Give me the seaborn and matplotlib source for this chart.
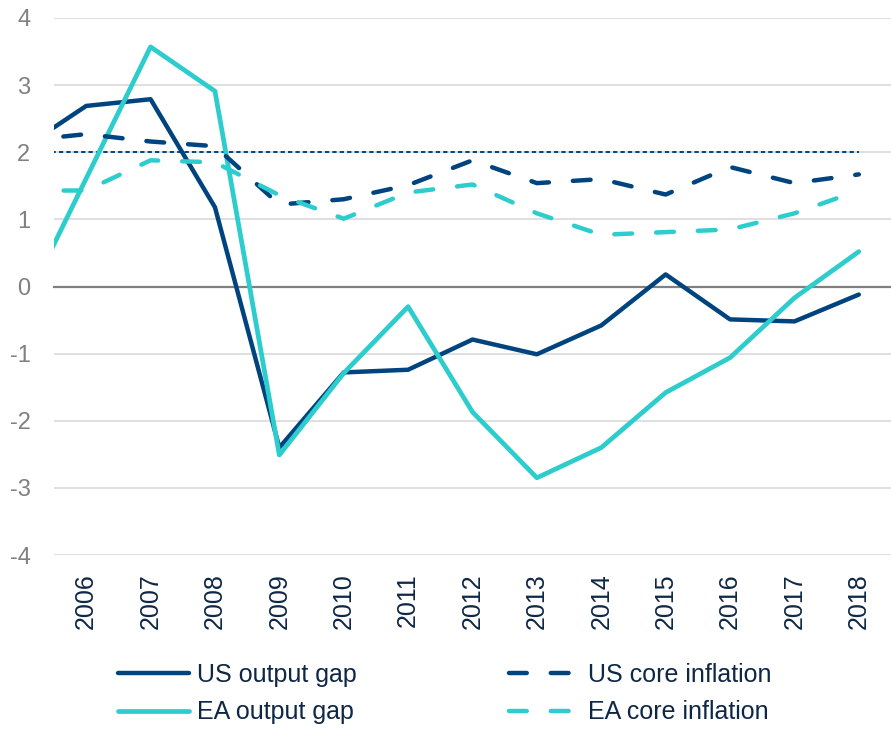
import numpy as np
import pandas as pd
import seaborn as sns
import matplotlib.pyplot as plt

# years (2005 only shows as the clipped start of the lines)
years = list(range(2005, 2019))
year_labels = [str(y) for y in range(2006, 2019)]

us_gap = [2.05, 2.69, 2.79, 1.18, -2.40, -1.28, -1.24, -0.79, -1.01, -0.58, 0.18, -0.49, -0.52, -0.12]
ea_gap = [-0.35, 1.61, 3.57, 2.91, -2.51, -1.29, -0.30, -1.87, -2.85, -2.40, -1.58, -1.06, -0.17, 0.52]
us_core = [2.17, 2.27, 2.16, 2.09, 1.22, 1.30, 1.51, 1.88, 1.54, 1.60, 1.37, 1.78, 1.54, 1.67]
ea_core = [1.43, 1.43, 1.88, 1.85, 1.36, 1.01, 1.40, 1.52, 1.09, 0.77, 0.81, 0.85, 1.09, 1.43]
target = [2.0] * len(years)

navy = "#00447f"
teal = "#2dcccd"
text_navy = "#0f2747"
grey = "#808080"

sns.set_style("white")
plt.rcParams["font.family"] = ["Liberation Sans", "DejaVu Sans"]
plt.rcParams["axes.unicode_minus"] = False

fig = plt.figure(figsize=(8.91, 7.29), dpi=100)
ax = fig.add_axes([54 / 891, 1 - 555 / 729, 1 - 54 / 891, (555 - 18) / 729])

dash = (0, (4.0, 5.4))
sns.lineplot(x=years, y=target, ax=ax, color=navy, lw=1.4,
             linestyle=(0, (2.2, 1.6)), legend=False, zorder=3)
sns.lineplot(x=years, y=us_gap, ax=ax, color=navy, lw=3.2, label="US output gap",
             solid_capstyle="round", solid_joinstyle="round", zorder=4)
sns.lineplot(x=years, y=ea_gap, ax=ax, color=teal, lw=3.4, label="EA output gap",
             solid_capstyle="round", solid_joinstyle="round", zorder=4)
sns.lineplot(x=years, y=us_core, ax=ax, color=navy, lw=3.2, label="US core inflation",
             linestyle=dash, dash_capstyle="round", dash_joinstyle="round", zorder=4)
sns.lineplot(x=years, y=ea_core, ax=ax, color=teal, lw=3.2, label="EA core inflation",
             linestyle=dash, dash_capstyle="round", dash_joinstyle="round", zorder=4)

ax.set_xlim(2005.5, 2005.5 + (891 - 54) / 65.0)
ax.set_ylim(-4, 4)
ax.set_yticks(range(-4, 5))
ax.yaxis.grid(True, color="#d9d9d9", lw=1.2)
ax.xaxis.grid(False)
ax.tick_params(axis="y", length=0, pad=17, labelsize=17, labelcolor=grey)
for s in ["top", "right", "left"]:
    ax.spines[s].set_visible(False)

# zero line with category-boundary ticks
ax.spines["bottom"].set_position(("data", 0))
ax.spines["bottom"].set_color(grey)
ax.spines["bottom"].set_linewidth(1.6)
ax.spines["bottom"].set_zorder(2.5)
ax.set_xticks([y + 0.5 for y in range(2005, 2019)])
ax.tick_params(axis="x", direction="out", length=5.5, width=1.4, color=grey,
               labelbottom=False)

# year labels below the plot
sec = ax.secondary_xaxis("bottom")
sec.set_xticks(range(2006, 2019), year_labels)
sec.spines["bottom"].set_visible(False)
sec.tick_params(axis="x", length=0, pad=13, labelsize=18, labelcolor=text_navy,
                labelrotation=90)

ax.set_xlabel("")
ax.set_ylabel("")

leg = ax.legend(loc="center left", bbox_to_anchor=(118 / 891, 1 - 693.5 / 729),
                bbox_transform=fig.transFigure, ncol=2, frameon=False,
                fontsize=18, handlelength=2.85, handletextpad=0.3,
                columnspacing=6.1, labelspacing=0.55, borderpad=0, borderaxespad=0)
for t in leg.get_texts():
    t.set_color(text_navy)
for h in leg.get_lines():
    h.set_dash_capstyle("round")
    h.set_solid_capstyle("round")

plt.savefig("out.png", dpi=100)
